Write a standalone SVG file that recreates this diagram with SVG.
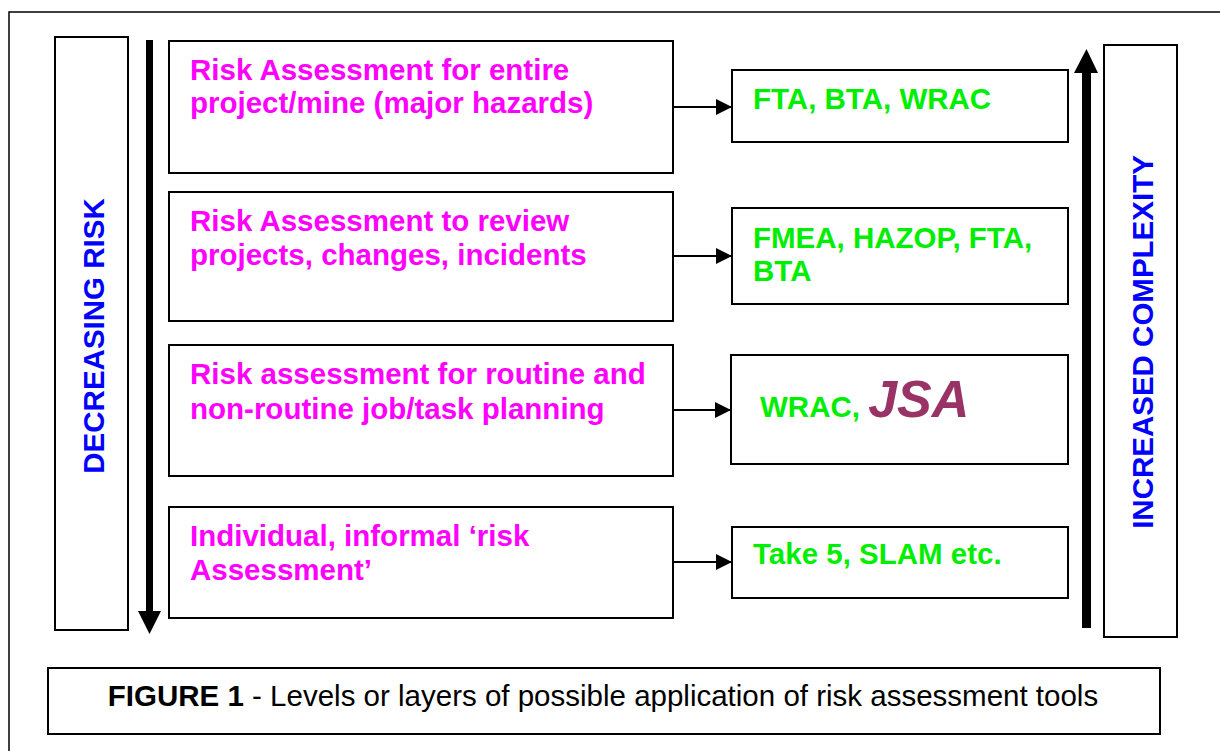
<svg xmlns="http://www.w3.org/2000/svg" width="1220" height="751" viewBox="0 0 1220 751">
<style>
.box{fill:#fff;stroke:#000;stroke-width:2}
.t{font-family:"Liberation Sans",Arial,sans-serif;font-weight:bold;font-size:29.5px}
.m{fill:#ff00ff}
.g{fill:#00ee00}
.b{fill:#0000ff}
.conn{stroke:#000;stroke-width:2;fill:none}
</style>
<defs>
<marker id="ah" viewBox="0 0 16 16" refX="16" refY="8" markerWidth="16" markerHeight="16" markerUnits="userSpaceOnUse" orient="auto">
<path d="M0,0 L16,8 L0,16 Z" fill="#000"/>
</marker>
</defs>
<rect x="0" y="0" width="1220" height="751" fill="#fff"/>
<rect x="9" y="12" width="1220" height="760" fill="none" stroke="#000" stroke-width="1.5"/>

<g id="decreasing-risk">
<rect class="box" x="55" y="37" width="73" height="593"/>
<text class="t b" transform="translate(104,336) rotate(-90)" text-anchor="middle" font-size="29px">DECREASING RISK</text>
</g>
<g id="down-arrow">
<rect x="146" y="40" width="7" height="572" fill="#000"/>
<path d="M138,611 L161,611 L149.5,634 Z" fill="#000"/>
</g>

<g id="level1">
<rect class="box" x="169" y="41" width="504" height="132"/>
<text class="t m" x="190" y="80">Risk Assessment for entire</text>
<text class="t m" x="190" y="113">project/mine (major hazards)</text>
</g>
<g id="level2">
<rect class="box" x="169" y="192" width="504" height="129"/>
<text class="t m" x="190" y="231">Risk Assessment to review</text>
<text class="t m" x="190" y="265">projects, changes, incidents</text>
</g>
<g id="level3">
<rect class="box" x="169" y="345" width="504" height="131"/>
<text class="t m" x="190" y="384">Risk assessment for routine and</text>
<text class="t m" x="190" y="419">non-routine job/task planning</text>
</g>
<g id="level4">
<rect class="box" x="169" y="507" width="504" height="111"/>
<text class="t m" x="190" y="546">Individual, informal ‘risk</text>
<text class="t m" x="190" y="580">Assessment’</text>
</g>

<g id="tool1">
<rect class="box" x="732" y="70" width="336" height="72"/>
<text class="t g" x="753" y="109">FTA, BTA, WRAC</text>
</g>
<g id="tool2">
<rect class="box" x="732" y="208" width="336" height="96"/>
<text class="t g" x="753" y="248">FMEA, HAZOP, FTA,</text>
<text class="t g" x="753" y="281">BTA</text>
</g>
<g id="tool3">
<rect class="box" x="731" y="355" width="337" height="109"/>
<text class="t" x="760" y="417"><tspan class="g">WRAC, </tspan><tspan fill="#993366" font-style="italic" font-size="52px">JSA</tspan></text>
</g>
<g id="tool4">
<rect class="box" x="732" y="527" width="336" height="71"/>
<text class="t g" x="753" y="564">Take 5, SLAM etc.</text>
</g>

<g id="connectors">
<line class="conn" x1="673" y1="107" x2="732" y2="107" marker-end="url(#ah)"/>
<line class="conn" x1="673" y1="256" x2="732" y2="256" marker-end="url(#ah)"/>
<line class="conn" x1="673" y1="410" x2="731" y2="410" marker-end="url(#ah)"/>
<line class="conn" x1="673" y1="562" x2="732" y2="562" marker-end="url(#ah)"/>
</g>

<g id="up-arrow">
<rect x="1082" y="72" width="9" height="556" fill="#000"/>
<path d="M1074,73 L1098,73 L1086.5,49 Z" fill="#000"/>
</g>
<g id="increased-complexity">
<rect class="box" x="1104" y="45" width="73" height="592"/>
<text class="t b" transform="translate(1153,342) rotate(-90)" text-anchor="middle" font-size="29px">INCREASED COMPLEXITY</text>
</g>

<g id="caption">
<rect class="box" x="48" y="668" width="1112" height="66"/>
<text font-family="Liberation Sans,Arial,sans-serif" font-size="29.5px" x="603" y="706" text-anchor="middle" fill="#000"><tspan font-weight="bold">FIGURE 1</tspan> - Levels or layers of possible application of risk assessment tools</text>
</g>
</svg>
